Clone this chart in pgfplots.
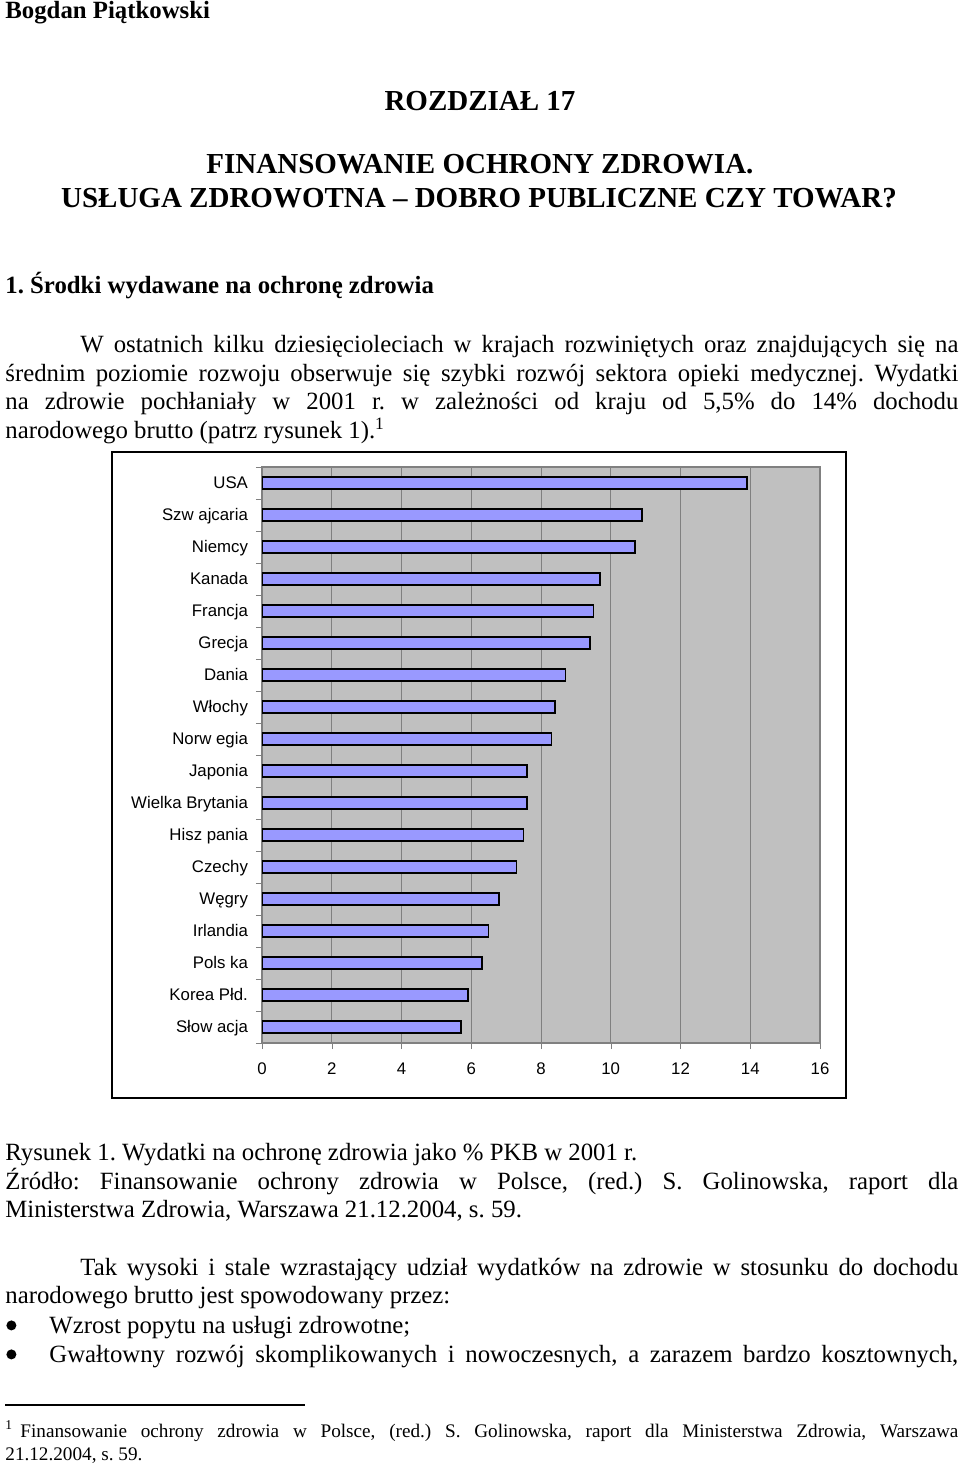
\documentclass[border=0pt]{standalone}
\usepackage{fontspec}
\setmainfont{Liberation Serif}
\newfontfamily\arial{Liberation Sans}
\usepackage{pgfplots}
\pgfplotsset{compat=1.18}
\definecolor{barblue}{RGB}{153,153,255}
\definecolor{plotgray}{RGB}{192,192,192}
\newcommand{\bodyfont}{\fontsize{12.4pt}{14pt}\selectfont\frenchspacing}
\newcommand{\titlefont}{\fontsize{14.5pt}{16pt}\selectfont\bfseries}
\newcommand{\notefont}{\fontsize{9.6pt}{11pt}\selectfont\frenchspacing}
\newcommand{\bulletbox}{\makebox[22pt][l]{\hspace{0.5pt}\raisebox{1.3pt}{\tikz\fill (0,0) circle (2.5pt);}}}
\begin{document}
\begin{tikzpicture}
\path[use as bounding box] (0,0) rectangle (480pt,-734pt);
\begin{scope}[x=0.5pt,y=-0.5pt,every node/.style={inner sep=0pt}]
\node[anchor=base west] at (5,18) {\bodyfont\bfseries Bogdan Piątkowski};
\node[anchor=base] at (480,110) {\titlefont ROZDZIAŁ 17};
\node[anchor=base] at (480,173) {\titlefont FINANSOWANIE OCHRONY ZDROWIA.};
\node[anchor=base] at (479,207) {\titlefont USŁUGA ZDROWOTNA – DOBRO PUBLICZNE CZY TOWAR?};
\node[anchor=base west] at (5,293) {\bodyfont\bfseries 1. Środki wydawane na ochronę zdrowia};
\node[anchor=base west] at (80,352) {\bodyfont\makebox[439pt][s]{W ostatnich kilku dziesięcioleciach w krajach rozwiniętych oraz znajdujących się na}};
\node[anchor=base west] at (5,381) {\bodyfont\makebox[476.5pt][s]{średnim poziomie rozwoju obserwuje się szybki rozwój sektora opieki medycznej. Wydatki}};
\node[anchor=base west] at (5,409.5) {\bodyfont\makebox[476.5pt][s]{na zdrowie pochłaniały w 2001 r. w zależności od kraju od 5,5\% do 14\% dochodu}};
\node[anchor=base west] at (5,438) {\bodyfont narodowego brutto (patrz rysunek 1).\textsuperscript{1}};
\draw[line width=1pt, fill=white] (112,452) rectangle (846,1098);
\node[anchor=base west] at (5,1160) {\bodyfont Rysunek 1. Wydatki na ochronę zdrowia jako \% PKB w 2001 r.};
\node[anchor=base west] at (5,1189) {\bodyfont\makebox[476.5pt][s]{Źródło: Finansowanie ochrony zdrowia w Polsce, (red.) S. Golinowska, raport dla}};
\node[anchor=base west] at (5,1217) {\bodyfont Ministerstwa Zdrowia, Warszawa 21.12.2004, s. 59.};
\node[anchor=base west] at (80,1275) {\bodyfont\makebox[439pt][s]{Tak wysoki i stale wzrastający udział wydatków na zdrowie w stosunku do dochodu}};
\node[anchor=base west] at (5,1303) {\bodyfont narodowego brutto jest spowodowany przez:};
\node[anchor=base west] at (5,1333) {\bodyfont\bulletbox Wzrost popytu na usługi zdrowotne;};
\node[anchor=base west] at (5,1362) {\bodyfont\bulletbox\makebox[454.5pt][s]{Gwałtowny rozwój skomplikowanych i nowoczesnych, a zarazem bardzo kosztownych,}};
\draw[line width=0.6pt] (5,1405) -- (305,1405);
\node[anchor=base west] at (5,1437) {\notefont\makebox[7.5pt][l]{\textsuperscript{1}}\makebox[469pt][s]{Finansowanie ochrony zdrowia w Polsce, (red.) S. Golinowska, raport dla Ministerstwa Zdrowia, Warszawa}};
\node[anchor=base west] at (5,1460) {\notefont 21.12.2004, s. 59.};
\end{scope}
\begin{axis}[
  at={(131pt,-521.5pt)}, anchor=south west,
  scale only axis, width=279pt, height=288pt,
  xmin=0, xmax=16, ymin=-0.5, ymax=17.5,
  y dir=reverse,
  xtick={0,2,...,16},
  ytick={0,...,17},
  yticklabels={USA,Szw ajcaria,Niemcy,Kanada,Francja,Grecja,Dania,Włochy,Norw egia,Japonia,Wielka Brytania,Hisz pania,Czechy,Węgry,Irlandia,Pols ka,Korea Płd.,Słow acja},
  minor ytick={-0.5,0.5,...,17.5},
  xtick pos=bottom, ytick pos=left,
  axis background/.style={fill=plotgray},
  xmajorgrids,
  major grid style={black!50, line width=0.5pt},
  axis line style={black!50, line width=0.6pt},
  tick align=outside,
  major tick length=3pt, minor tick length=3pt,
  major y tick style={draw=none},
  minor y tick style={black!50},
  major x tick style={black!50},
  /pgf/number format/assume math mode=true,
  typeset ticklabels with strut,
  ticklabel style={font=\arial\fontsize{8.4pt}{9pt}\selectfont},
  xticklabel style={yshift=-3pt},
  yticklabel style={xshift=-0.5pt, yshift=-1pt},
]
\addplot[xbar, bar width=6pt, fill=barblue, draw=black, line width=0.8pt]
 coordinates {(13.9,0) (10.9,1) (10.7,2) (9.7,3) (9.5,4) (9.4,5) (8.7,6) (8.4,7) (8.3,8) (7.6,9) (7.6,10) (7.5,11) (7.3,12) (6.8,13) (6.5,14) (6.3,15) (5.9,16) (5.7,17)};
\end{axis}
\end{tikzpicture}
\end{document}
